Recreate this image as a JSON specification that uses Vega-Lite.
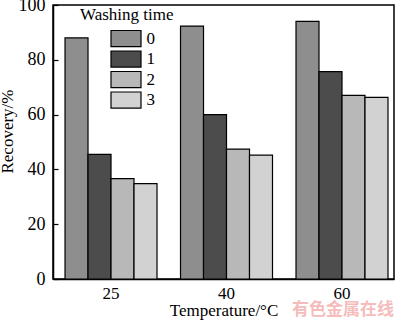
{
  "$schema": "https://vega.github.io/schema/vega-lite/v6.json",
  "width": 341,
  "height": 274,
  "autosize": {"type": "none"},
  "padding": {"left": 53, "top": 5, "right": 6, "bottom": 44},
  "background": "white",
  "config": {
    "font": "Liberation Serif",
    "view": {"stroke": "black", "strokeWidth": 1.5}
  },
  "data": {
    "values": [
      {"temperature": "25", "washing": "0", "recovery": 88.0},
      {"temperature": "25", "washing": "1", "recovery": 45.5},
      {"temperature": "25", "washing": "2", "recovery": 36.6},
      {"temperature": "25", "washing": "3", "recovery": 34.8},
      {"temperature": "40", "washing": "0", "recovery": 92.3},
      {"temperature": "40", "washing": "1", "recovery": 60.0},
      {"temperature": "40", "washing": "2", "recovery": 47.4},
      {"temperature": "40", "washing": "3", "recovery": 45.2},
      {"temperature": "60", "washing": "0", "recovery": 94.0},
      {"temperature": "60", "washing": "1", "recovery": 75.7},
      {"temperature": "60", "washing": "2", "recovery": 67.0},
      {"temperature": "60", "washing": "3", "recovery": 66.3}
    ]
  },
  "title": {
    "text": "有色金属在线",
    "orient": "bottom",
    "anchor": "end",
    "font": "Noto Sans CJK SC",
    "fontSize": 17,
    "fontWeight": "bold",
    "color": "#f6bcbc",
    "offset": 0,
    "dy": -16
  },
  "mark": {"type": "bar", "stroke": "black", "strokeWidth": 1.2},
  "encoding": {
    "x": {
      "field": "temperature",
      "type": "nominal",
      "sort": ["25", "40", "60"],
      "scale": {"paddingInner": 0.2035, "paddingOuter": 0.078, "align": 0.667},
      "axis": {
        "title": "Temperature/°C",
        "titleFontSize": 17,
        "titleFontWeight": "normal",
        "titleColor": "black",
        "titlePadding": 1,
        "labelFontSize": 17,
        "labelColor": "black",
        "labelAngle": 0,
        "labelPadding": 6,
        "ticks": false,
        "domainColor": "black",
        "domainWidth": 1.5
      }
    },
    "xOffset": {
      "field": "washing",
      "type": "nominal",
      "scale": {"paddingInner": 0, "paddingOuter": 0}
    },
    "y": {
      "field": "recovery",
      "type": "quantitative",
      "scale": {"domain": [0, 100]},
      "axis": {
        "title": "Recovery/%",
        "titleFontSize": 17,
        "titleFontWeight": "normal",
        "titleColor": "black",
        "titlePadding": 2,
        "titleY": 126,
        "labelFontSize": 18,
        "labelColor": "black",
        "labelPadding": 13,
        "values": [0, 20, 40, 60, 80, 100],
        "grid": false,
        "tickColor": "black",
        "tickSize": -5,
        "tickWidth": 1.2,
        "domainColor": "black",
        "domainWidth": 1.5
      }
    },
    "fill": {
      "field": "washing",
      "type": "nominal",
      "scale": {"domain": ["0", "1", "2", "3"], "range": ["#8e8e8e", "#4c4c4c", "#b8b8b8", "#d2d2d2"]},
      "legend": {
        "orient": "none",
        "legendX": 27,
        "legendY": 2,
        "title": "Washing time",
        "titleFontSize": 17,
        "titleFontWeight": "normal",
        "titleColor": "black",
        "titlePadding": 6,
        "labelFontSize": 17,
        "labelColor": "black",
        "symbolType": "M-2,-1.07H2V1.07H-2Z",
        "symbolSize": 225,
        "symbolStrokeColor": "black",
        "symbolStrokeWidth": 1.2,
        "symbolOffset": 37.5,
        "labelOffset": 12,
        "rowPadding": -0.5
      }
    }
  }
}
